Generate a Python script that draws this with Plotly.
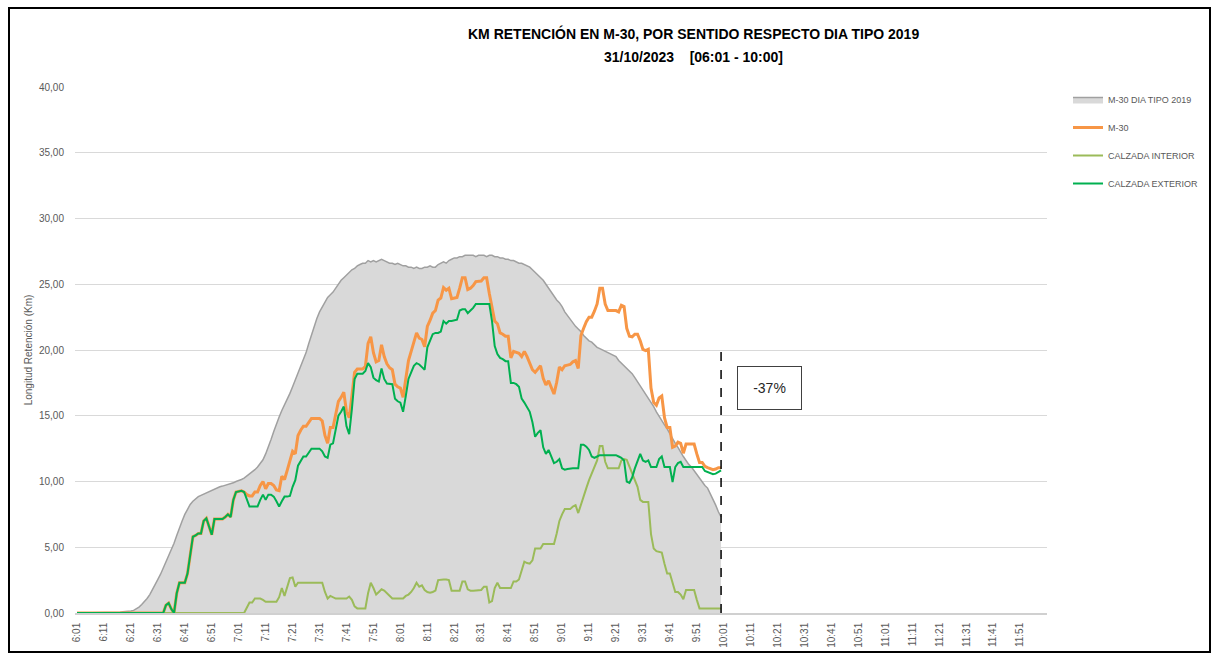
import plotly.graph_objects as go

# ---------------- data ----------------
# category axis: one category per minute, 6:01 .. 12:00
minutes = list(range(6 * 60 + 1, 12 * 60 + 1))
categories = [f"{m // 60}:{m % 60:02d}" for m in minutes]
tick_labels = categories[::10]
series_times = categories[:240]          # 6:01 .. 10:00

dia_tipo_2019 = [
    0, 0, 0, 0, 0, 0, 0, 0, 0, 0,
    0, 0, 0, 0, 0, 0, 0.05, 0.1, 0.1, 0.1,
    0.15, 0.2, 0.3, 0.45, 0.65, 0.85, 1.1, 1.4, 1.75, 2.15,
    2.55, 2.95, 3.4, 3.85, 4.3, 4.8, 5.3, 5.9, 6.5, 7.0,
    7.5, 7.9, 8.25, 8.5, 8.7, 8.85, 8.95, 9.05, 9.15, 9.25,
    9.35, 9.45, 9.5, 9.6, 9.65, 9.7, 9.75, 9.85, 9.9, 10.0,
    10.05, 10.15, 10.25, 10.4, 10.55, 10.7, 10.9, 11.1, 11.35, 11.65,
    12.1, 12.6, 13.2, 13.8, 14.4, 14.9, 15.4, 15.8, 16.3, 16.7,
    17.2, 17.7, 18.2, 18.7, 19.2, 19.8, 20.5, 21.2, 21.8, 22.4,
    22.9, 23.3, 23.7, 24.0, 24.2, 24.4, 24.7, 25.0, 25.3, 25.5,
    25.7, 25.9, 26.1, 26.2, 26.4, 26.5, 26.6, 26.6, 26.8, 26.7,
    26.8, 26.7, 26.8, 26.9, 26.8, 26.7, 26.6, 26.6, 26.5, 26.6,
    26.5, 26.4, 26.4, 26.3, 26.3, 26.2, 26.3, 26.2, 26.2, 26.3,
    26.3, 26.4, 26.3, 26.3, 26.5, 26.6, 26.7, 26.6, 26.8, 26.9,
    27.0, 27.0, 27.1, 27.1, 27.2, 27.2, 27.2, 27.2, 27.1, 27.2,
    27.2, 27.2, 27.1, 27.2, 27.2, 27.1, 27.1, 27.0, 27.0, 26.9,
    26.9, 26.8, 26.8, 26.7, 26.6, 26.6, 26.5, 26.4, 26.3, 26.1,
    25.9, 25.7, 25.5, 25.3, 25.0, 24.7, 24.4, 24.1, 23.8, 23.6,
    23.3, 22.9, 22.6, 22.3, 22.0, 21.8, 21.6, 21.4, 21.1, 20.9,
    20.7, 20.6, 20.4, 20.2, 20.1, 20.0, 19.9, 19.8, 19.7, 19.6,
    19.5, 19.2, 19.0, 18.8, 18.6, 18.4, 18.2, 17.9, 17.6, 17.3,
    17.0, 16.7, 16.4, 16.0, 15.7, 15.3, 15.0, 14.6, 14.3, 14.0,
    13.6, 13.3, 12.9, 12.6, 12.2, 11.9, 11.6, 11.3, 11.1, 10.8,
    10.5, 10.2, 10.0, 9.7, 9.5, 9.1, 8.7, 8.2, 7.7, 7.3,
]

m30 = [
    0, 0, 0, 0, 0, 0, 0, 0, 0, 0,
    0, 0, 0, 0, 0, 0, 0, 0, 0, 0,
    0, 0, 0, 0, 0, 0, 0, 0, 0, 0,
    0, 0, 0, 0.6, 0.75, 0.3, 0, 1.5, 2.3, 2.3,
    2.3, 3.0, 4.4, 5.8, 5.9, 6.05, 6.05, 7.0, 7.2, 6.6,
    5.95, 7.15, 7.15, 7.15, 7.15, 7.3, 7.5, 7.3, 8.6, 9.2,
    9.25, 9.3, 9.2, 9.0, 8.9, 8.9, 9.2, 9.2, 9.7, 10.0,
    9.45, 9.85, 9.85, 9.7, 9.35, 9.3, 10.4, 10.15, 10.85, 11.55,
    12.3, 12.1, 13.5, 13.9, 14.2, 14.2, 14.5, 14.8, 14.8, 14.8,
    14.8, 14.6, 13.5, 12.9, 14.1, 14.1, 15.1, 16.1, 16.4, 16.8,
    15.3, 14.85, 16.5, 18.3, 18.55, 18.55, 18.55, 18.75, 20.5, 21.0,
    19.8, 19.1, 19.2, 20.4, 19.5, 18.95, 18.65, 18.5, 17.4, 17.2,
    17.1, 16.4, 17.8, 19.2, 19.9, 20.7, 21.3, 20.9, 20.8, 20.25,
    21.8, 22.25, 22.8, 23.0, 23.8, 23.95, 24.75, 24.55, 24.7, 23.9,
    23.95, 24.0, 24.7, 25.5, 25.5, 24.6, 24.7, 24.9, 25.2, 25.2,
    25.25, 25.5, 25.5, 24.3, 23.1, 22.2, 22.0, 21.3, 21.2, 21.05,
    21.05, 19.4, 19.9, 19.8, 19.75, 19.5, 19.9, 19.5, 19.05, 18.5,
    18.3, 18.6, 18.8, 17.85, 17.35, 17.65, 17.15, 16.65, 17.55, 18.7,
    18.5, 18.8, 18.85, 18.9, 19.1, 19.2, 18.6, 21.1, 21.65, 22.15,
    22.5, 22.5, 22.95, 23.5, 24.7, 24.7, 23.5, 23.0, 23.0, 23.0,
    23.0, 22.9, 23.4, 23.3, 21.65, 21.05, 21.0, 21.2, 21.2, 20.7,
    20.05, 19.95, 20.05, 17.1, 16.0, 15.8, 16.35, 16.5, 14.85, 14.1,
    14.1, 12.6, 12.7, 13.0, 12.9, 12.15, 12.85, 12.85, 12.85, 12.85,
    12.1, 11.45, 11.45, 11.15, 11.05, 10.95, 10.9, 10.95, 11.05, 11.05,
]

calzada_interior = [
    0, 0, 0, 0, 0, 0, 0, 0, 0, 0,
    0, 0, 0, 0, 0, 0, 0, 0, 0, 0,
    0, 0, 0, 0, 0, 0, 0, 0, 0, 0,
    0, 0, 0, 0, 0, 0, 0, 0, 0, 0,
    0, 0, 0, 0, 0, 0, 0, 0, 0, 0,
    0, 0, 0, 0, 0, 0, 0, 0, 0, 0,
    0, 0, 0, 0.4, 0.8, 0.8, 1.1, 1.1, 1.1, 1.0,
    0.85, 0.85, 0.85, 0.85, 0.85, 1.2, 1.9, 1.3, 2.0, 2.65,
    2.7, 2.0, 2.3, 2.3, 2.3, 2.3, 2.3, 2.3, 2.3, 2.3,
    2.3, 2.3, 1.6, 1.1, 1.3, 1.2, 1.1, 1.1, 1.1, 1.1,
    1.1, 1.25, 1.0, 0.5, 0.35, 0.35, 0.35, 0.35, 1.5, 2.3,
    1.9, 1.4, 1.6, 1.8, 1.7, 1.5, 1.25, 1.1, 1.1, 1.1,
    1.1, 1.1, 1.3, 1.4, 1.6, 1.9, 2.3, 2.0, 2.1, 1.75,
    1.6, 1.55, 1.6, 1.7, 2.5, 2.55, 2.55, 2.55, 2.5, 1.7,
    1.7, 1.7, 1.7, 2.4, 2.4, 1.8, 1.7, 1.7, 1.7, 1.7,
    1.75, 2.0, 2.0, 0.8, 0.9, 1.9, 2.3, 1.9, 1.9, 1.9,
    1.9, 1.9, 2.4, 2.4, 2.55, 3.2, 3.9, 3.8, 3.75, 4.0,
    4.9, 4.9, 4.9, 5.25, 5.25, 5.25, 5.25, 5.25, 6.05, 7.0,
    7.5, 7.9, 7.9, 7.9, 8.1, 8.2, 7.6, 8.3, 8.85, 9.5,
    10.1, 10.6, 11.15, 11.6, 12.7, 12.7, 11.5, 11.0, 11.0, 11.0,
    11.0, 11.0, 11.6, 11.7, 11.65, 11.15, 10.7, 10.2, 9.6, 8.6,
    8.45, 8.45, 8.45, 6.0, 4.9, 4.7, 4.65, 4.6, 3.75, 3.0,
    3.0, 2.3, 1.6, 1.6, 1.4, 1.05, 1.75, 1.75, 1.75, 1.75,
    1.0, 0.35, 0.35, 0.35, 0.35, 0.35, 0.35, 0.35, 0.35, 0.35,
]

calzada_exterior = [
    0, 0, 0, 0, 0, 0, 0, 0, 0, 0,
    0, 0, 0, 0, 0, 0, 0, 0, 0, 0,
    0, 0, 0, 0, 0, 0, 0, 0, 0, 0,
    0, 0, 0, 0.6, 0.75, 0.3, 0, 1.5, 2.3, 2.3,
    2.3, 3.0, 4.4, 5.8, 5.9, 6.05, 6.05, 7.0, 7.2, 6.6,
    5.95, 7.15, 7.15, 7.15, 7.15, 7.3, 7.5, 7.3, 8.6, 9.2,
    9.25, 9.3, 9.2, 8.6, 8.1, 8.1, 8.1, 8.1, 8.6, 9.0,
    8.6, 9.0, 9.0, 8.85, 8.5, 8.1, 8.5, 8.85, 8.85, 8.9,
    9.6, 10.1, 11.2, 11.6, 11.9, 11.9, 12.2, 12.5, 12.5, 12.5,
    12.5, 12.3, 11.9, 11.8, 12.8, 12.9, 14.0, 15.0, 15.3, 15.7,
    14.2, 13.6, 15.5, 17.8, 18.2, 18.2, 18.2, 18.4, 19.0, 18.7,
    17.9, 17.7, 17.6, 18.6, 17.8, 17.45, 17.4, 17.4, 16.3, 16.1,
    16.0, 15.3, 16.5, 17.8, 18.3, 18.8, 19.0, 18.9, 18.7, 18.5,
    20.2, 20.7, 21.2, 21.3, 21.3, 21.4, 22.2, 22.0, 22.2, 22.2,
    22.25, 22.3, 23.0, 23.1, 23.1, 22.8, 23.0, 23.2, 23.5, 23.5,
    23.5, 23.5, 23.5, 23.5, 22.2, 20.3, 19.7, 19.4, 19.3, 19.15,
    19.15, 17.5, 17.5, 17.4, 17.2, 16.3, 16.0, 15.7, 15.3, 14.5,
    13.4, 13.7, 13.9, 12.6, 12.1, 12.4, 11.9, 11.4, 11.5, 11.7,
    11.0, 10.9, 10.95, 11.0, 11.0, 11.0, 11.0, 12.8, 12.8, 12.65,
    12.4, 11.9, 11.8, 11.9, 12.0, 12.0, 12.0, 12.0, 12.0, 12.0,
    12.0, 11.9, 11.8, 11.6, 10.0, 9.9, 10.3, 11.0, 11.6, 12.1,
    11.6, 11.5, 11.6, 11.1, 11.1, 11.1, 11.7, 11.9, 11.1, 11.1,
    11.1, 9.95, 11.1, 11.4, 11.5, 11.1, 11.1, 11.1, 11.1, 11.1,
    11.1, 11.1, 11.1, 10.8, 10.7, 10.6, 10.55, 10.6, 10.7, 10.85,
]

title_line1 = "KM RETENCIÓN EN M-30, POR SENTIDO RESPECTO DIA TIPO 2019"
title_line2 = "31/10/2023    [06:01 - 10:00]"
variation_label = "-37%"
variation_pos = (257, 17.1)      # (category index, km)
cut_time = "10:00"
cut_top = 20

# ---------------- figure ----------------
FONT = "Arial, Liberation Sans, sans-serif"
GREY_TXT = "#595959"
PW, PH = 972, 526          # plot area size in px
ML, MT = 75, 87

fig = go.Figure()
fig.add_trace(go.Scatter(
    x=series_times, y=dia_tipo_2019, name="M-30 DIA TIPO 2019", mode="lines",
    fill="tozeroy", fillcolor="#d9d9d9", line=dict(color="#a0a0a0", width=1.5),
    legendgroup="a"))
fig.add_trace(go.Scatter(
    x=series_times, y=m30, name="M-30", mode="lines",
    line=dict(color="#f79646", width=3), legendgroup="b"))
fig.add_trace(go.Scatter(
    x=series_times, y=calzada_interior, name="CALZADA INTERIOR", mode="lines",
    line=dict(color="#9bbb59", width=2), legendgroup="c"))
fig.add_trace(go.Scatter(
    x=series_times, y=calzada_exterior, name="CALZADA EXTERIOR", mode="lines",
    line=dict(color="#00b050", width=2), legendgroup="d"))

fig.update_layout(
    width=1212, height=654,
    margin=dict(l=ML, r=1212 - ML - PW, t=MT, b=654 - MT - PH, autoexpand=False),
    paper_bgcolor="white", plot_bgcolor="white",
    separators=",.",
    font=dict(family=FONT, color=GREY_TXT, size=10),
    showlegend=True,
    legend=dict(x=(1068 - ML) / PW, y=(613 - 85) / PH, xanchor="left", yanchor="top",
                font=dict(size=9, color=GREY_TXT, family=FONT),
                traceorder="grouped", tracegroupgap=9, itemwidth=30,
                bgcolor="rgba(0,0,0,0)"),
    xaxis=dict(type="category", categoryorder="array", categoryarray=categories,
               range=[-0.75, 359.95], tickmode="array",
               tickvals=tick_labels, ticktext=tick_labels, tickangle=-90,
               tickfont=dict(size=10, color=GREY_TXT, family=FONT),
               showgrid=False, showline=True, linecolor="#d0d0d0", linewidth=1.5,
               ticks="", ticklabelstandoff=4, zeroline=False, automargin=False),
    yaxis=dict(range=[0, 40], dtick=5, tickformat=".2f",
               tickfont=dict(size=10, color=GREY_TXT, family=FONT),
               showgrid=True, gridcolor="#d9d9d9", gridwidth=1,
               zeroline=False, showline=False, ticks="", ticklabelstandoff=10,
               automargin=False,
               title=dict(text="Longitud Retención (Km)", standoff=4,
                          font=dict(size=10, color=GREY_TXT, family=FONT))),
)

# title lines
fig.add_annotation(xref="paper", yref="paper", x=(693 - ML) / PW, y=(613 - 34) / PH,
                   text=f"<b>{title_line1}</b>", showarrow=False,
                   xanchor="center", yanchor="middle",
                   font=dict(size=14, color="black", family=FONT))
fig.add_annotation(xref="paper", yref="paper", x=(693 - ML) / PW, y=(613 - 57) / PH,
                   text=f"<b>{title_line2}</b>", showarrow=False,
                   xanchor="center", yanchor="middle",
                   font=dict(size=14, color="black", family=FONT))

# dashed cut line at 10:00
fig.add_shape(type="line", xref="x", yref="y", x0=cut_time, x1=cut_time,
              y0=0, y1=cut_top, line=dict(color="black", width=1.5, dash="dash"))

# variation box
fig.add_annotation(xref="x", yref="y", x=variation_pos[0], y=variation_pos[1],
                   text=variation_label, showarrow=False,
                   font=dict(size=14, color="#262626", family=FONT),
                   bordercolor="#404040", borderwidth=1, borderpad=4,
                   bgcolor="white", width=55, height=34)

# outer frame of the picture
fig.add_shape(type="rect", xref="paper", yref="paper",
              x0=(9 - ML) / PW, x1=(1210 - ML) / PW,
              y0=(613 - 652) / PH, y1=(613 - 8) / PH,
              line=dict(color="black", width=2), fillcolor="rgba(0,0,0,0)",
              layer="above")

fig.write_html("out.html", config={"displayModeBar": False},
               post_script="document.body.style.margin='0';document.body.style.overflow='hidden';")
